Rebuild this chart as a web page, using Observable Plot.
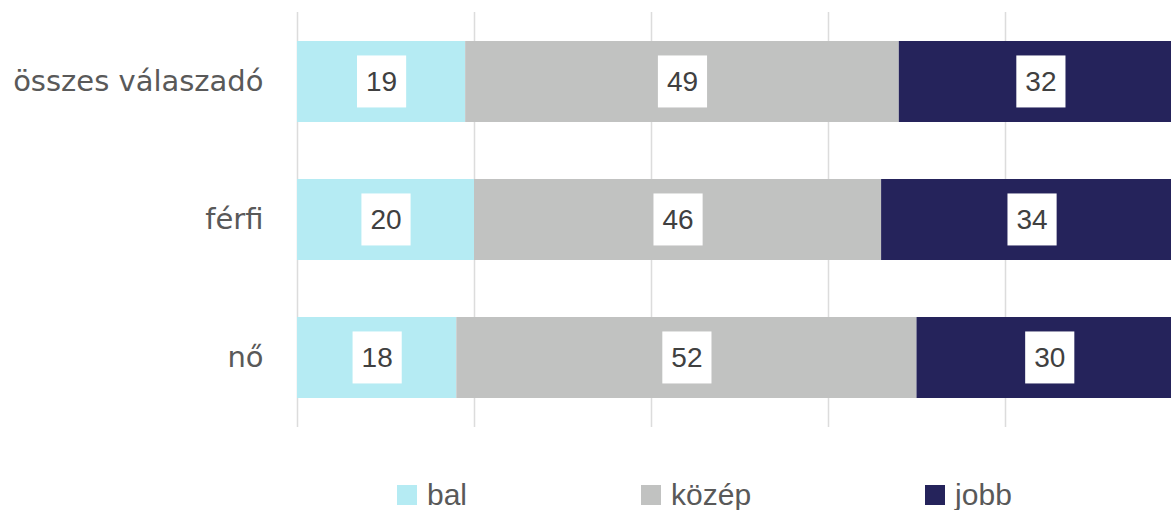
<!DOCTYPE html>
<html>
<head>
<meta charset="utf-8">
<script src="https://cdn.jsdelivr.net/npm/d3@7"></script>
<script src="https://cdn.jsdelivr.net/npm/@observablehq/plot@0.6"></script>
<style>
  html, body { margin: 0; padding: 0; background: #fff; }
  #wrap { width: 1171px; overflow: hidden; }
  #legend { display: flex; padding-top: 38px; margin-left: 397px; gap: 174px;
            font-family: "Liberation Sans", Arial, sans-serif; font-size: 30px; color: #595959; }
  .item { display: flex; align-items: center; }
  .sw { width: 20px; height: 20px; margin-right: 10px; }
</style>
</head>
<body>
<div id="wrap"><div id="chart"></div></div>
<div id="legend"></div>
<script>
const categories = ["összes válaszadó", "férfi", "nő"];
const series = ["bal", "közép", "jobb"];
const bal = [19, 20, 18];
const kozep = [49, 46, 52];
const jobb = [32, 34, 30];
const colors = ["#b5ebf3", "#c1c2c1", "#25235b"];
const xTicks = [0, 20, 40, 60, 80, 100];

const valuesBySeries = [bal, kozep, jobb];
const rows = [];
categories.forEach((c, i) => {
  series.forEach((s, j) => rows.push({cat: c, series: s, value: valuesBySeries[j][i]}));
});

const chart = Plot.plot({
  width: 1182,
  height: 440,
  marginLeft: 297,
  marginRight: 0,
  marginTop: 12,
  marginBottom: 13,
  style: {fontFamily: "DejaVu Sans", fontSize: "29px", color: "#595959", background: "#fff", maxWidth: "none", overflow: "hidden"},
  x: {domain: [0, 100], axis: null},
  y: {domain: categories, paddingInner: 0.413, paddingOuter: 0.21, align: 0.5, label: null},
  color: {domain: series, range: colors},
  marks: [
    Plot.ruleX(xTicks, {stroke: "#dcdcdc", strokeWidth: 1.5}),
    Plot.barX(rows, Plot.stackX({x: "value", y: "cat", fill: "series", order: series})),
    Plot.axisY({tickSize: 0, tickPadding: 34, label: null}),
    Plot.text(rows, Plot.stackX({x: "value", y: "cat", z: "series", order: series, text: d => String(d.value),
      fontSize: 28, fontFamily: "Liberation Sans", fill: "#404040"}))
  ]
});
document.getElementById("chart").append(chart);

// white boxes behind the value labels
const g = chart.querySelector('g[aria-label="text"]');
if (g) {
  g.querySelectorAll("text").forEach(t => {
    const b = t.getBBox();
    const r = document.createElementNS("http://www.w3.org/2000/svg", "rect");
    const padX = 9, h = 52;
    const cy = b.y + b.height / 2;
    r.setAttribute("x", b.x - padX);
    r.setAttribute("y", cy - h / 2);
    r.setAttribute("width", b.width + 2 * padX);
    r.setAttribute("height", h);
    r.setAttribute("fill", "#ffffff");
    const tr = t.getAttribute("transform");
    if (tr) r.setAttribute("transform", tr);
    t.parentNode.insertBefore(r, t);
  });
}

// legend
const legend = document.getElementById("legend");
series.forEach((s, i) => {
  const item = document.createElement("div");
  item.className = "item";
  const sw = document.createElement("span");
  sw.className = "sw";
  sw.style.background = colors[i];
  const lab = document.createElement("span");
  lab.textContent = s;
  item.append(sw, lab);
  legend.append(item);
});
</script>
</body>
</html>
